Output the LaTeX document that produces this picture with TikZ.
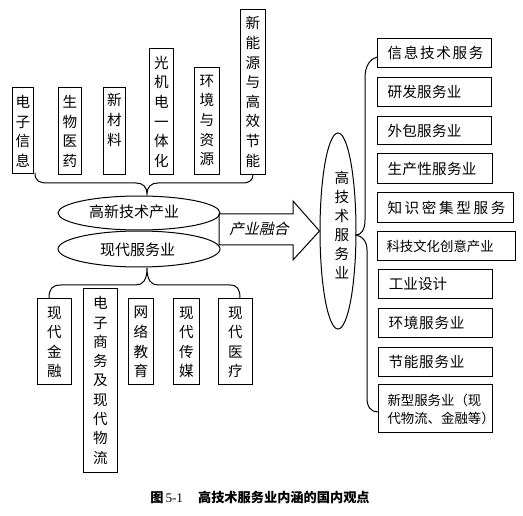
\documentclass[tikz,border=0pt]{standalone}
\usepackage{fontspec}
\setmainfont{Noto Sans CJK SC}
\newfontfamily\numfont{Liberation Serif}
\newfontfamily\slcjk[FakeSlant=0.22]{Noto Sans CJK SC}
\usetikzlibrary{shapes.geometric}
\begin{document}
\begin{tikzpicture}[x=1pt,y=-1pt, line width=1pt,
  tbox/.style={draw, inner sep=0pt, anchor=north west},
  vtext/.style={font=\fontsize{14.6pt}{19.6pt}\selectfont, align=center, inner sep=0pt, anchor=north},
  htext/.style={font=\fontsize{14.6pt}{18pt}\selectfont, inner sep=0pt, anchor=west},
  oval/.style={draw, ellipse, inner sep=0pt},
  otext/.style={font=\fontsize{15pt}{18pt}\selectfont, inner sep=0pt}]
\useasboundingbox (0,0) rectangle (523,516);

% ---------- top boxes ----------
\node[tbox, minimum width=21pt, minimum height=86pt] (a1) at (12,87) {};
\node[tbox, minimum width=23pt, minimum height=87pt] (a2) at (58,87) {};
\node[tbox, minimum width=22pt, minimum height=87pt] (a3) at (103,87) {};
\node[tbox, minimum width=24pt, minimum height=126pt] (a4) at (149,48) {};
\node[tbox, minimum width=25pt, minimum height=107pt] (a5) at (194,67) {};
\node[tbox, minimum width=25pt, minimum height=165pt] (a6) at (240,9) {};
\node[vtext] (a1t) at ([yshift=-8pt]a1.north) {电\\子\\信\\息};
\node[vtext] (a2t) at ([yshift=-8pt]a2.north) {生\\物\\医\\药};
\node[vtext] (a3t) at ([yshift=-6pt]a3.north) {新\\材\\料};
\node[vtext] (a4t) at ([yshift=-7.5pt]a4.north) {光\\机\\电\\一\\体\\化};
\node[vtext] (a5t) at ([yshift=-7.5pt]a5.north) {环\\境\\与\\资\\源};
\node[vtext] (a6t) at ([yshift=-7pt]a6.north) {新\\能\\源\\与\\高\\效\\节\\能};

% top brace
\draw (35,173) .. controls (35,181) and (39,183) .. (48,183) -- (136,183)
  .. controls (143,183) and (147,187) .. (147,194)
  .. controls (147,187) and (151,183) .. (158,183) -- (242,183)
  .. controls (250,183) and (253,180) .. (253,174);

% ---------- two ellipses ----------
\node[oval, minimum width=162pt, minimum height=36pt] (svc) at (139,249) {};
\node[oval, fill=white, minimum width=162pt, minimum height=34pt] (hitech) at (139,213) {};
\node[otext] (hitecht) at (134,212) {高新技术产业};
\node[otext] (svct) at (137.5,250) {现代服务业};

% ---------- fusion arrow ----------
\node[oval, minimum width=36pt, minimum height=196pt] (hts) at (338,231) {};
\node[vtext, font=\fontsize{14.6pt}{19pt}\selectfont, anchor=center] (htst) at (342,225.5) {高\\技\\术\\服\\务\\业};
\draw (219,214) -- (293,214) -- (293,201) -- (hts.west) -- (293,260) -- (293,245) -- (219,245) -- cycle;
\node[font=\fontsize{14.8pt}{18pt}\slcjk, inner sep=0pt] (fus) at (259,229) {产业融合};

% ---------- bottom brace and boxes ----------
\draw (49,298) .. controls (49,289) and (52,285) .. (61,285) -- (136,285)
  .. controls (143,285) and (147,280) .. (147,268)
  .. controls (147,280) and (151,285) .. (158,285) -- (230,285)
  .. controls (237,285) and (240,289) .. (240,298);
\node[tbox, minimum width=34pt, minimum height=86pt] (b1) at (37,298) {};
\node[tbox, minimum width=34pt, minimum height=184pt] (b2) at (83,288) {};
\node[tbox, minimum width=25pt, minimum height=86pt] (b3) at (128,298) {};
\node[tbox, minimum width=26pt, minimum height=86pt] (b4) at (173,298) {};
\node[tbox, minimum width=34pt, minimum height=86pt] (b5) at (218,298) {};
\node[vtext] (b1t) at ([yshift=-8pt]b1.north) {现\\代\\金\\融};
\node[vtext, font=\fontsize{14.6pt}{19.3pt}\selectfont] (b2t) at ([yshift=-8pt]b2.north) {电\\子\\商\\务\\及\\现\\代\\物\\流};
\node[vtext] (b3t) at ([yshift=-8pt]b3.north) {网\\络\\教\\育};
\node[vtext] (b4t) at ([yshift=-8pt]b4.north) {现\\代\\传\\媒};
\node[vtext] (b5t) at ([yshift=-8pt]b5.north) {现\\代\\医\\疗};

% ---------- right brace and boxes ----------
\draw (377,57) .. controls (370,59) and (365,66) .. (365,78) -- (365,220)
  .. controls (365,230) and (361,235) .. (356,235)
  .. controls (362,236) and (367,241) .. (367,250) -- (367,398)
  .. controls (367,407) and (371,412) .. (378,412);
\node[tbox, minimum width=114pt, minimum height=29pt] (r1) at (377,38) {};
\node[tbox, minimum width=114pt, minimum height=29pt] (r2) at (377,77) {};
\node[tbox, minimum width=114pt, minimum height=28pt] (r3) at (377,116) {};
\node[tbox, minimum width=115pt, minimum height=30pt] (r4) at (377,153) {};
\node[tbox, minimum width=136pt, minimum height=30pt] (r5) at (377,192) {};
\node[tbox, minimum width=138pt, minimum height=29pt] (r6) at (377,231) {};
\node[tbox, minimum width=114pt, minimum height=29pt] (r7) at (378,269) {};
\node[tbox, minimum width=114pt, minimum height=29pt] (r8) at (378,308) {};
\node[tbox, minimum width=114pt, minimum height=29pt] (r9) at (378,347) {};
\node[tbox, minimum width=114pt, minimum height=48pt] (r10) at (378,384) {};
\node[htext] (r1t) at ([xshift=10pt]r1.west) {\makebox[96pt]{信\hfill 息\hfill 技\hfill 术\hfill 服\hfill 务}};
\node[htext] (r2t) at ([xshift=10pt]r2.west) {\makebox[74pt]{研\hfill 发\hfill 服\hfill 务\hfill 业}};
\node[htext] (r3t) at ([xshift=10pt]r3.west) {\makebox[74pt]{外\hfill 包\hfill 服\hfill 务\hfill 业}};
\node[htext] (r4t) at ([xshift=10pt]r4.west) {\makebox[89pt]{生\hfill 产\hfill 性\hfill 服\hfill 务\hfill 业}};
\node[htext] (r5t) at ([xshift=10pt]r5.west) {\makebox[118pt]{知\hfill 识\hfill 密\hfill 集\hfill 型\hfill 服\hfill 务}};
\node[htext, font=\fontsize{13.4pt}{18pt}\selectfont] (r6t) at ([xshift=9pt]r6.west) {科技文化创意产业};
\node[htext] (r7t) at ([xshift=11pt]r7.west) {\makebox[57pt]{工\hfill 业\hfill 设\hfill 计}};
\node[htext] (r8t) at ([xshift=10pt]r8.west) {\makebox[76pt]{环\hfill 境\hfill 服\hfill 务\hfill 业}};
\node[htext] (r9t) at ([xshift=10pt]r9.west) {\makebox[76pt]{节\hfill 能\hfill 服\hfill 务\hfill 业}};
\node[htext, align=left, font=\fontsize{13.4pt}{18pt}\selectfont] (r10t) at ([xshift=9pt,yshift=-1pt]r10.west) {新型服务业（现\\代物流、金融等）};

% ---------- caption ----------
\node[font=\fontsize{13.2pt}{14pt}\selectfont\bfseries, inner sep=0pt] (cap) at (260,497)
  {图\hspace{2pt}{\numfont\mdseries 5-1}\hspace{15pt}高技术服务业内涵的国内观点};
\end{tikzpicture}
\end{document}
